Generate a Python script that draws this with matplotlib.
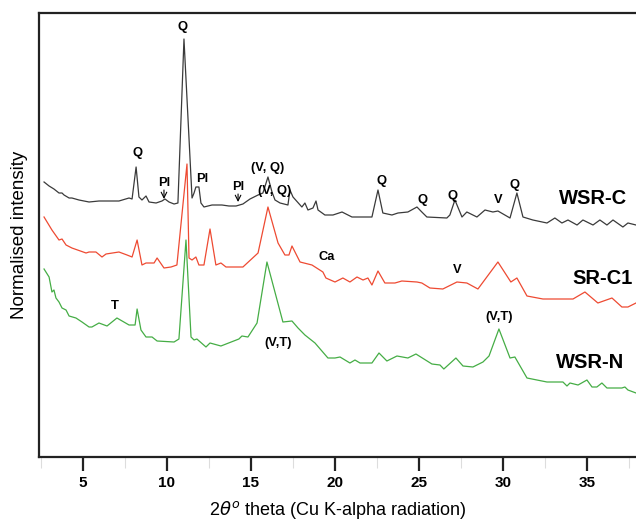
import matplotlib
matplotlib.use("Agg")
import matplotlib.pyplot as plt
from matplotlib.ticker import MultipleLocator

plt.rcParams['font.family'] = ['Liberation Sans', 'DejaVu Sans']

# ---- data (2theta in degrees, intensity in arbitrary normalised units incl. offset) ----
wsrc_x = [2.69, 2.99, 3.28, 3.58, 3.76, 3.88, 4.18, 4.35, 4.77, 5.37, 5.96, 7.15, 7.75, 7.93,
          8.17, 8.34, 8.52, 8.76, 8.94, 9.36, 9.71, 9.89, 10.13, 10.43, 10.66, 11.02, 11.50,
          11.62, 11.73, 11.91, 12.03, 12.21, 12.69, 13.28, 13.70, 14.12, 14.53, 14.95, 15.43,
          15.72, 16.02, 16.26, 16.44, 16.74, 17.21, 17.33, 17.51, 18.04, 18.22, 18.40, 18.70,
          18.88, 19.00, 19.41, 19.89, 20.43, 21.02, 22.21, 22.57, 22.86, 23.40, 23.76, 24.35,
          24.89, 25.18, 25.48, 26.67, 26.85, 27.15, 27.57, 27.86, 28.46, 28.94, 29.41, 29.71,
          30.43, 30.84, 31.20, 31.79, 32.63, 33.10, 33.52, 33.88, 34.42, 34.77, 35.37, 35.78,
          36.20, 36.56, 37.15, 37.45, 37.93]
wsrc_y = [275, 271, 268, 264, 264, 262, 259, 259, 257, 255, 256, 256, 259, 258,
          290, 260, 257, 261, 255, 254, 256, 258, 255, 253, 254, 418, 259,
          264, 270, 270, 254, 250, 252, 252, 251, 251, 253, 258, 262,
          264, 280, 265, 257, 254, 252, 267, 260, 250, 254, 247, 249,
          256, 247, 242, 242, 245, 240, 240, 267, 244, 242, 244, 245,
          250, 245, 240, 239, 242, 257, 240, 245, 240, 247, 245, 246,
          239, 264, 240, 237, 234, 239, 234, 237, 232, 237, 232, 237,
          232, 237, 230, 234, 232]

src1_x = [2.69, 3.16, 3.58, 3.76, 4.00, 4.35, 5.19, 5.37, 5.78, 6.14, 6.38, 7.15, 7.63, 7.93,
          8.23, 8.52, 8.76, 9.24, 9.42, 9.83, 10.25, 10.60, 11.20, 11.32, 11.50, 11.73, 11.91,
          12.21, 12.57, 12.92, 13.22, 13.52, 14.53, 15.43, 16.02, 16.62, 17.03, 17.27, 17.45,
          17.93, 18.64, 19.29, 19.47, 20.01, 20.48, 20.90, 21.32, 21.68, 21.97, 22.21, 22.57,
          22.98, 23.58, 23.99, 24.89, 25.18, 25.66, 26.43, 27.27, 27.86, 28.52, 29.71, 30.48,
          30.84, 31.44, 32.39, 34.18, 34.89, 35.66, 36.50, 37.09, 37.45, 37.93]
src1_y = [240, 227, 217, 218, 212, 209, 204, 205, 205, 200, 203, 205, 202, 200,
          217, 192, 194, 194, 199, 189, 190, 192, 293, 199, 197, 200, 192,
          192, 228, 192, 194, 190, 190, 204, 250, 214, 202, 202, 211,
          195, 192, 185, 179, 175, 179, 175, 180, 177, 179, 172, 186,
          174, 174, 176, 175, 174, 169, 168, 175, 174, 168, 195, 175,
          179, 161, 158, 158, 165, 154, 159, 150, 150, 154]

wsrn_x = [2.69, 2.99, 3.16, 3.28, 3.40, 3.58, 3.76, 4.00, 4.18, 4.59, 4.95, 5.37, 5.54, 5.96,
          6.44, 7.03, 7.75, 8.11, 8.23, 8.46, 8.76, 9.12, 9.42, 10.43, 10.72, 11.14, 11.44,
          11.62, 11.79, 12.33, 12.57, 13.22, 14.29, 14.47, 14.83, 15.37, 15.96, 16.91, 17.45,
          17.81, 18.22, 18.82, 19.59, 20.01, 20.31, 20.90, 21.20, 21.50, 22.21, 22.63, 23.10,
          23.70, 24.35, 24.83, 25.78, 26.26, 26.49, 27.21, 27.63, 28.22, 28.82, 29.18, 29.77,
          30.43, 30.72, 31.44, 32.63, 33.58, 33.82, 34.00, 34.48, 35.01, 35.31, 35.60, 35.90,
          36.20, 37.09, 37.27, 37.45, 37.93]
wsrn_y = [188, 180, 165, 167, 159, 155, 149, 147, 141, 139, 135, 130, 130, 134,
          131, 139, 132, 132, 148, 127, 120, 120, 116, 115, 118, 217, 120,
          117, 118, 110, 114, 111, 118, 121, 120, 134, 195, 135, 136,
          129, 122, 114, 99, 99, 100, 94, 97, 94, 94, 104, 96,
          101, 99, 103, 93, 92, 88, 99, 91, 90, 95, 101, 128,
          99, 100, 79, 75, 75, 71, 74, 72, 77, 70, 70, 74,
          69, 69, 70, 67, 64]

# peak annotations: (text, x, y)
peak_labels = [("Q", 10.96, 430), ("Q", 8.23, 304), ("Pl", 9.83, 274), ("Pl", 12.09, 278),
               ("Pl", 14.24, 270), ("(V, Q)", 16.02, 289), ("(V, Q)", 16.44, 266),
               ("Q", 22.80, 276), ("Q", 25.24, 257), ("Q", 27.03, 261), ("V", 29.71, 257),
               ("Q", 30.72, 272), ("Ca", 19.53, 200), ("V", 27.27, 187), ("T", 6.91, 151),
               ("(V,T)", 16.62, 114), ("(V,T)", 29.77, 140)]
arrows = [(9.83, 267, 258), (14.24, 263, 255)]
sample_labels = [("WSR-C", 35.37, 258), ("SR-C1", 35.96, 179), ("WSR-N", 35.19, 94)]

# ---- figure ----
fig = plt.figure(figsize=(6.36, 5.21), dpi=100)
ax = fig.add_axes([39/636, 64/521, 1 - 39/636, 444/521])

ax.plot(wsrc_x, wsrc_y, color='#3a3a3a', lw=0.9)
ax.plot(src1_x, src1_y, color='#ee4a32', lw=0.9)
ax.plot(wsrn_x, wsrn_y, color='#45ad45', lw=0.9)

for t, x, y in peak_labels:
    ax.text(x, y, t, ha='center', va='center', fontsize=9.3, fontweight='bold')
for x, y0, y1 in arrows:
    ax.annotate('', xy=(x, y1), xytext=(x, y0),
                arrowprops=dict(arrowstyle='->', color='black', lw=0.8, shrinkA=0, shrinkB=0))
for t, x, y in sample_labels:
    ax.text(x, y, t, ha='center', va='center', fontsize=14.5, fontweight='bold')

ax.set_xlim(2.39, 37.93)
ax.set_ylim(0, 444)
ax.set_yticks([])
ax.xaxis.set_major_locator(MultipleLocator(5))
ax.xaxis.set_minor_locator(MultipleLocator(2.5))
ax.tick_params(axis='x', which='major', direction='out', length=10, width=1.6,
               color='#222222', labelsize=11, pad=4)
ax.tick_params(axis='x', which='minor', direction='out', length=8, width=0.8,
               color='#dddddd')
for lbl in ax.get_xticklabels():
    lbl.set_fontweight('bold')
ax.spines['right'].set_visible(False)
for s in ['left', 'top', 'bottom']:
    ax.spines[s].set_linewidth(1.6)
    ax.spines[s].set_color('#222222')

ax.set_xlabel(r'2$\theta^{o}$ theta (Cu K-alpha radiation)', fontsize=13, labelpad=6)
ax.set_ylabel('Normalised intensity', fontsize=13.5, labelpad=8)

fig.savefig('out.png', dpi=100)
